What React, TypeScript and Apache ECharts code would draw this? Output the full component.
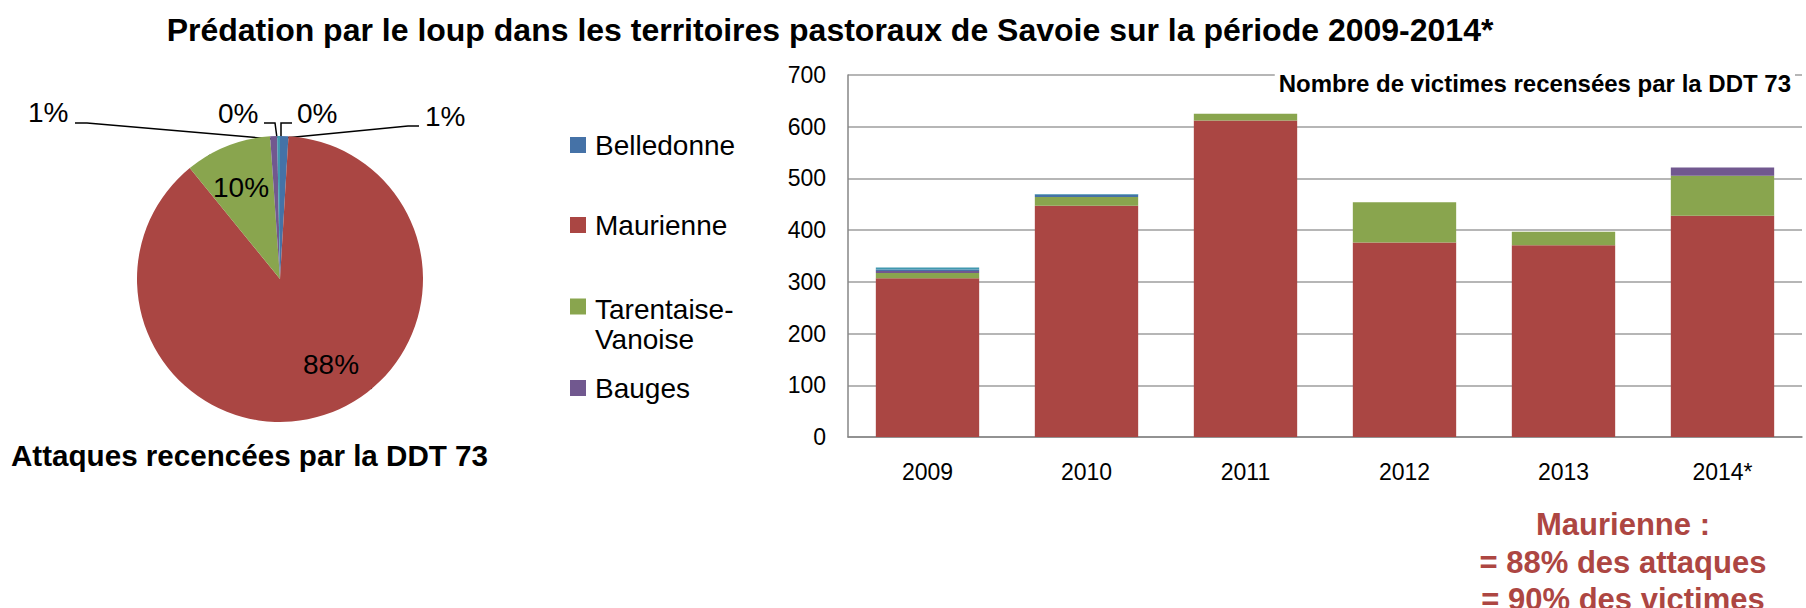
import React, { useEffect, useRef } from 'react';
import * as echarts from 'echarts';

// ---- data ----
const years = ['2009', '2010', '2011', '2012', '2013', '2014*'];
const maurienneVictims = [307, 447, 612, 376, 371, 428];
const tarentaiseVictims = [10, 17, 13, 78, 26, 77];
const baugesVictims = [4, 0, 0, 0, 0, 16];
const belledonneVictims = [3, 5, 0, 0, 0, 0];
const autresVictims = [4, 1, 0, 0, 0, 0];

const pieNames = ['Belledonne', 'Maurienne', 'Tarentaise-Vanoise', 'Bauges', 'Autres', 'Non localisé'];
const pieAttacks = [6, 560, 62, 5, 2, 0];

const legendNames = ['Belledonne', 'Maurienne', 'Tarentaise-Vanoise', 'Bauges'];

const yMin = 0;
const yMax = 700;
const yStep = 100;

const colorOf: Record<string, string> = {
  Belledonne: '#4572A7',
  Maurienne: '#AA4643',
  'Tarentaise-Vanoise': '#89A54E',
  Bauges: '#71588F',
  Autres: '#4198AF',
  'Non localisé': '#DB843D',
};

const FONT = '"Liberation Sans", Arial, Helvetica, sans-serif';

export default function App() {
  const ref = useRef<HTMLDivElement>(null);

  useEffect(() => {
    const chart = echarts.init(ref.current!, null, { renderer: 'svg' });

    const spots: any[] = [
      { x: 425, y: 116, align: 'left', line: [[285, 138], [408, 126], [419, 126]] },
      { x: 331, y: 364, align: 'center' },
      { x: 241, y: 187, align: 'center' },
      { x: 28, y: 112, align: 'left', line: [[272, 139], [87, 123], [75, 123]] },
      { x: 218, y: 113, align: 'left', line: [[277, 138], [275, 123], [264, 123]] },
      { x: 297, y: 113, align: 'left', line: [[281, 138], [281, 123], [292, 123]] },
    ];

    const legendTops = [129, 209, 294, 372];
    const legendBase = {
      orient: 'vertical',
      left: 570,
      padding: 0,
      itemWidth: 16,
      itemHeight: 16,
      icon: 'rect',
      selectedMode: false,
      textStyle: {
        fontSize: 28,
        fontFamily: FONT,
        color: '#000',
        lineHeight: 32,
        padding: [0, 0, 0, 4],
      },
    };
    const legends = legendNames.map((n, i) => {
      if (n === 'Tarentaise-Vanoise') {
        return {
          ...legendBase,
          data: [n],
          top: legendTops[i],
          itemHeight: 51,
          icon: 'path://M0 0H16V16H0Z M0 51L0.01 51L0.01 51.01Z',
          formatter: () => 'Tarentaise-\nVanoise',
          textStyle: { ...legendBase.textStyle, lineHeight: 30 },
        };
      }
      return { ...legendBase, data: [n], top: legendTops[i] };
    });

    const barSeries = [
      { name: 'Maurienne', values: maurienneVictims },
      { name: 'Tarentaise-Vanoise', values: tarentaiseVictims },
      { name: 'Bauges', values: baugesVictims },
      { name: 'Belledonne', values: belledonneVictims },
      { name: 'Autres', values: autresVictims },
    ].map((s) => ({
      type: 'bar',
      name: s.name,
      stack: 'victimes',
      data: s.values,
      barCategoryGap: '35%',
      itemStyle: { color: colorOf[s.name] },
      emphasis: { disabled: true },
    }));

    chart.setOption({
      animation: false,
      title: {
        text: 'Nombre de victimes recensées par la DDT 73',
        right: 11,
        top: 68,
        padding: [3, 4],
        backgroundColor: '#fff',
        textStyle: { fontSize: 24, fontWeight: 'bold', fontFamily: FONT, color: '#000' },
      },
      legend: legends,
      grid: { left: 848, top: 75, width: 954, height: 362, containLabel: false },
      xAxis: {
        type: 'category',
        data: years,
        axisTick: { show: false },
        axisLine: { lineStyle: { color: '#868686', width: 1.5 } },
        axisLabel: { fontSize: 23, fontFamily: FONT, color: '#000', margin: 23 },
      },
      yAxis: {
        type: 'value',
        min: yMin,
        max: yMax,
        interval: yStep,
        axisTick: { show: false },
        axisLine: { show: true, lineStyle: { color: '#868686', width: 1.5 } },
        splitLine: { lineStyle: { color: '#9E9E9E', width: 1.5 } },
        axisLabel: { fontSize: 23, fontFamily: FONT, color: '#000', margin: 22 },
      },
      series: [
        {
          type: 'pie',
          center: [280, 279],
          radius: 143,
          startAngle: 90,
          clockwise: true,
          percentPrecision: 0,
          avoidLabelOverlap: false,
          emphasis: { disabled: true },
          data: pieNames.map((n, i) => ({
            name: n,
            value: pieAttacks[i],
            itemStyle: { color: colorOf[n] },
            label: i === 1 || i === 2 ? { position: 'inside', color: '#000' } : undefined,
          })),
          label: {
            show: true,
            formatter: '{d}%',
            fontSize: 28,
            fontFamily: FONT,
            color: '#000',
          },
          labelLine: { show: true, length: 10, length2: 10, lineStyle: { color: '#000', width: 1.5 } },
          labelLayout: (p: any) => {
            const s = spots[p.dataIndex];
            const o: any = { x: s.x, y: s.y, align: s.align, verticalAlign: 'middle' };
            if (s.line) o.labelLinePoints = s.line;
            return o;
          },
        },
        ...barSeries,
      ],
      graphic: [
        {
          type: 'text',
          x: 830,
          y: 30,
          style: {
            text: 'Prédation par le loup dans les territoires pastoraux de Savoie sur la période 2009-2014*',
            font: `bold 32px ${FONT}`,
            fill: '#000',
            align: 'center',
            verticalAlign: 'middle',
          },
        },
        {
          type: 'text',
          x: 11,
          y: 455,
          style: {
            text: 'Attaques recencées par la DDT 73',
            font: `bold 29.6px ${FONT}`,
            fill: '#000',
            align: 'left',
            verticalAlign: 'middle',
          },
        },
        {
          type: 'text',
          x: 1623,
          y: 506,
          style: {
            text: 'Maurienne :\n= 88% des attaques\n= 90% des victimes',
            font: `bold 31px ${FONT}`,
            lineHeight: 37.5,
            fill: '#AD4642',
            align: 'center',
            verticalAlign: 'top',
          },
        },
      ],
    });

    return () => chart.dispose();
  }, []);

  return (
    <div
      ref={ref}
      style={{ position: 'absolute', left: 0, top: 0, width: 1806, height: 608, background: '#fff' }}
    />
  );
}
